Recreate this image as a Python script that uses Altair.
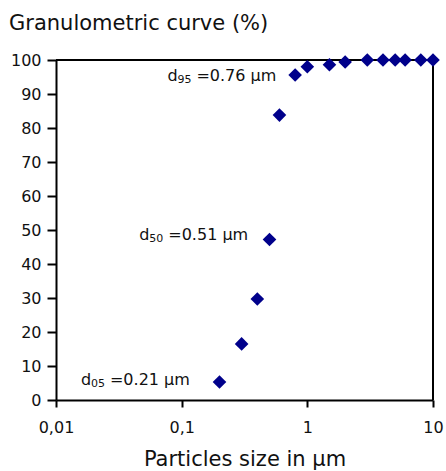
import altair as alt
import pandas as pd

# Cumulative particle size distribution (µm, % passing)
sizes = [0.2, 0.3, 0.4, 0.5, 0.6, 0.8, 1.0, 1.5, 2.0, 3.0, 4.0, 5.0, 6.0, 8.0, 10.0]
percent = [5.3, 16.5, 29.7, 47.2, 83.8, 95.6, 98.0, 98.6, 99.4, 100, 100, 100, 100, 100, 100]

# Characteristic diameters written beside their points: "d" + subscript + value
label_sub = ["95", "50", "05"]
label_rest = ["=0.76 µm", "=0.51 µm", "=0.21 µm"]
label_x = [0.077, 0.046, 0.0158]   # left edge of each label, in µm
label_y = [95.3, 48.5, 5.9]

FONT = "DejaVu Sans"

points = pd.DataFrame({"size": sizes, "pct": percent})
labels = pd.DataFrame({"sub": label_sub, "rest": label_rest, "x": label_x, "y": label_y})

x_scale = alt.Scale(type="log", domain=[0.01, 10], nice=False)
y_scale = alt.Scale(domain=[0, 100], nice=False)

x_axis = alt.Axis(
    title="Particles size in µm",
    values=[0.01, 0.1, 1, 10],
    labelExpr="replace(format(datum.value, ''), '.', ',')",
    grid=False,
    tickSize=7,
    tickWidth=2,
    tickColor="black",
    domainColor="black",
    domainWidth=2,
    labelFontSize=16,
    labelPadding=12,
    labelColor="#111",
    labelFont=FONT,
    labelFlush=False,
    labelOverlap=False,
    titleFontSize=21,
    titleFont=FONT,
    titleFontWeight="normal",
    titleColor="#111",
    titlePadding=13,
)

y_axis = alt.Axis(
    title=None,
    values=list(range(0, 101, 10)),
    tickCount=11,
    grid=False,
    tickSize=9,
    tickWidth=2,
    tickColor="black",
    domainColor="black",
    domainWidth=2,
    labelFontSize=16,
    labelPadding=6,
    labelColor="#111",
    labelFont=FONT,
    labelOverlap=False,
    labelFlush=False,
)

dots = alt.Chart(points).mark_point(
    shape="diamond", filled=True, size=185, color="#00008B", opacity=1, clip=False
).encode(
    x=alt.X("size:Q", scale=x_scale, axis=x_axis),
    y=alt.Y("pct:Q", scale=y_scale, axis=y_axis),
)

base = alt.Chart(labels).encode(
    x=alt.X("x:Q", scale=x_scale),
    y=alt.Y("y:Q", scale=y_scale),
)

d_letter = base.mark_text(
    align="left", baseline="middle", fontSize=16, font=FONT, color="#111"
).encode(text=alt.value("d"))

d_sub = base.mark_text(
    align="left", baseline="middle", fontSize=11, font=FONT, color="#111", dx=10, dy=4
).encode(text="sub:N")

d_rest = base.mark_text(
    align="left", baseline="middle", fontSize=16, font=FONT, color="#111", dx=29
).encode(text="rest:N")

# Box frame: top and right edges of the plot area
top_edge = alt.Chart(points).mark_rule(color="black", strokeWidth=2).encode(
    x=alt.value(0), x2=alt.value(377), y=alt.value(0)
)
right_edge = alt.Chart(points).mark_rule(color="black", strokeWidth=2).encode(
    x=alt.value(377), y=alt.value(0), y2=alt.value(340)
)

chart = (
    alt.layer(top_edge, right_edge, dots, d_letter, d_sub, d_rest)
    .properties(
        width=377,
        height=340,
        autosize=alt.AutoSizeParams(type="none"),
        padding={"left": 56, "top": 60, "right": 13, "bottom": 71},
        title=alt.TitleParams(
            "Granulometric curve (%)",
            anchor="start",
            frame="group",
            fontSize=21,
            font=FONT,
            fontWeight="normal",
            color="#111",
            dx=-47,
            offset=18,
        ),
    )
    .configure_view(stroke=None)
    .configure(background="white")
)

chart.save("out.html", embed_options={"renderer": "svg", "actions": False})
